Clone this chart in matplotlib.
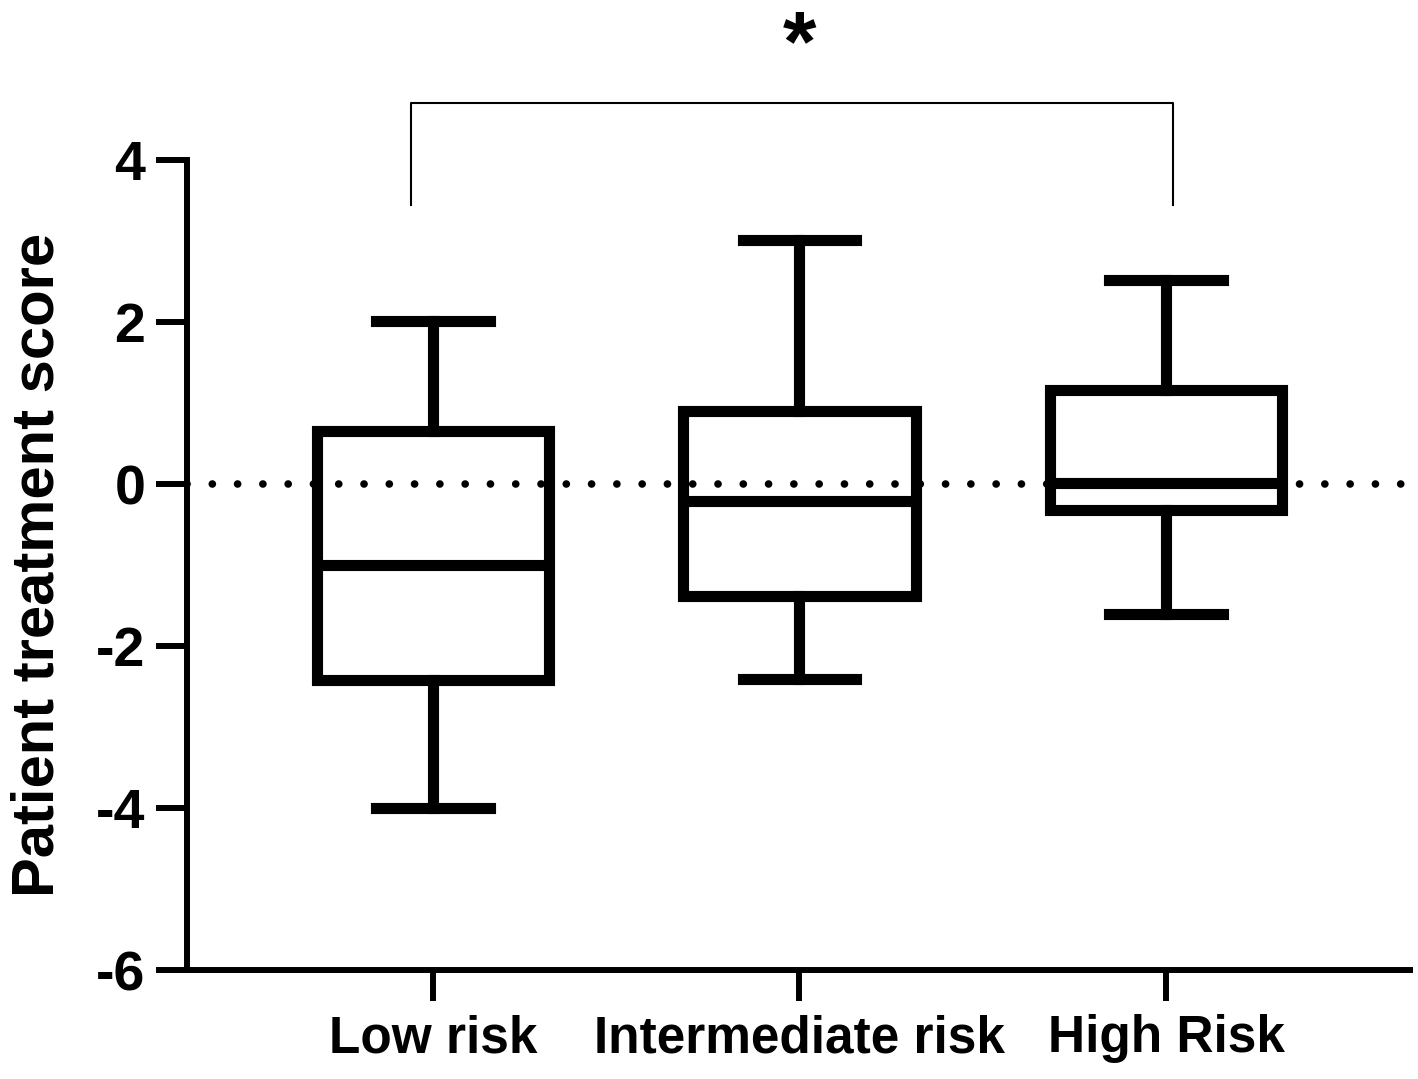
import matplotlib
matplotlib.use("Agg")
import matplotlib.pyplot as plt

plt.rcParams['font.family'] = ['Liberation Sans', 'DejaVu Sans']
plt.rcParams['font.weight'] = 'bold'
plt.rcParams['axes.unicode_minus'] = False

groups = ['Low risk', 'Intermediate risk', 'High Risk']
whisker_lo = [-4.0, -2.41, -1.6]
q1 = [-2.42, -1.38, -0.32]
median = [-1.0, -0.21, 0.01]
q3 = [0.66, 0.9, 1.16]
whisker_hi = [2.01, 3.01, 2.52]

stats = []
for i in range(len(groups)):
    stats.append({'whislo': whisker_lo[i], 'q1': q1[i], 'med': median[i],
                  'q3': q3[i], 'whishi': whisker_hi[i], 'label': groups[i]})

fig = plt.figure(figsize=(14.18, 10.79), dpi=100)
ax = fig.add_axes([0.1319, 0.1010, 0.8625, 0.7507])

lw = 8
ax.axhline(0, color='black', lw=5.5, linestyle=(0, (0.01, 3.3)),
           dash_capstyle='round', zorder=1)

ax.bxp(stats, positions=range(len(groups)), widths=0.635, capwidths=0.31,
       showfliers=False, patch_artist=True,
       boxprops=dict(facecolor='none', edgecolor='black', linewidth=lw),
       medianprops=dict(color='black', linewidth=lw),
       whiskerprops=dict(color='black', linewidth=lw),
       capprops=dict(color='black', linewidth=lw))

ax.set_xlim(-0.671, 2.666)
ax.set_ylim(-6, 4)
ax.set_yticks([-6, -4, -2, 0, 2, 4])
ax.set_xticks(range(len(groups)))
ax.set_xticklabels(groups)

for s in ['top', 'right']:
    ax.spines[s].set_visible(False)
for s in ['left', 'bottom']:
    ax.spines[s].set_linewidth(4.3)
ax.tick_params(axis='both', width=4.3, length=22)
ax.tick_params(axis='y', pad=8, labelsize=40)
ax.tick_params(axis='x', pad=10, labelsize=37)

ax.set_ylabel('Patient treatment score', fontsize=43, fontweight='bold',
              labelpad=22)

# significance bracket
bx = [-0.06, -0.06, 2.02, 2.02]
by = [3.44, 4.70, 4.70, 3.44]
ax.plot(bx, by, color='black', lw=1.5, clip_on=False)
ax.text(1.0, 5.38, '*', ha='center', va='center', fontsize=62,
        fontweight='bold', clip_on=False)

fig.savefig('out.png', dpi=100, facecolor='white')
